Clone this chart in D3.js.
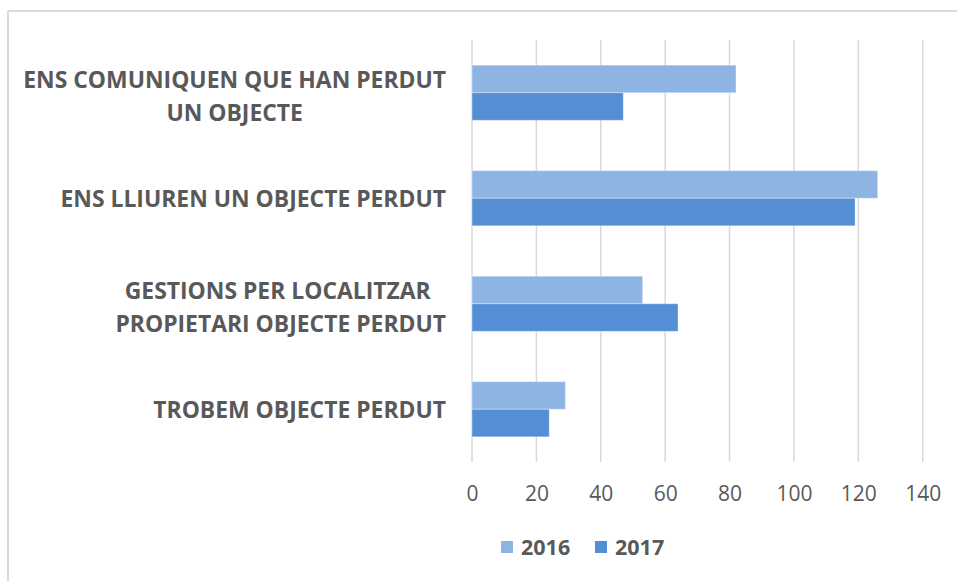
<!DOCTYPE html>
<html>
<head>
<meta charset="utf-8">
<script src="https://cdn.jsdelivr.net/npm/d3@7"></script>
<style>
  html, body { margin: 0; padding: 0; background: #fff; }
  svg { display: block; }
  .cat tspan { white-space: pre; }
</style>
</head>
<body>
<svg id="chart" width="957" height="581"></svg>
<script>
const categories = [
  ["ENS COMUNIQUEN QUE HAN PERDUT", "UN OBJECTE"],
  ["ENS LLIUREN UN OBJECTE PERDUT"],
  ["GESTIONS PER LOCALITZAR ", "PROPIETARI OBJECTE PERDUT"],
  ["TROBEM OBJECTE PERDUT"]
];
const seriesNames = ["2016", "2017"];
const values2016 = [82, 126, 53, 29];
const values2017 = [47, 119, 64, 24];
const xTicks = [0, 20, 40, 60, 80, 100, 120, 140];
const colors = ["#8EB4E3", "#558ED5"];

const svg = d3.select("#chart");
const W = 957, H = 581;
const margin = { left: 472, right: 34, top: 40, bottom: 119 };

// outer frame (top and left edges visible)
svg.append("line").attr("x1", 8).attr("x2", W).attr("y1", 11).attr("y2", 11)
  .attr("stroke", "#d9d9d9").attr("stroke-width", 2);
svg.append("line").attr("x1", 8).attr("x2", 8).attr("y1", 11).attr("y2", H)
  .attr("stroke", "#d9d9d9").attr("stroke-width", 2);

const x = d3.scaleLinear().domain([0, 140]).range([margin.left, 922.7]);
const y = d3.scaleBand().domain(d3.range(categories.length))
  .range([margin.top, H - margin.bottom]).paddingInner(0).paddingOuter(0);
const inner = d3.scaleBand().domain([0, 1])
  .range([0, y.bandwidth()]).paddingInner(0).paddingOuter(0.914);

// gridlines
svg.append("g").selectAll("line").data(xTicks).join("line")
  .attr("x1", d => x(d)).attr("x2", d => x(d))
  .attr("y1", margin.top).attr("y2", H - margin.bottom)
  .attr("stroke", "#d9d9d9").attr("stroke-width", 1.5);

// tick labels
const xAxis = d3.axisBottom(x).tickValues(xTicks).tickSize(0).tickPadding(0);
const gx = svg.append("g").attr("transform", `translate(0,${H - margin.bottom})`).call(xAxis);
gx.select(".domain").remove();
gx.selectAll("text")
  .attr("dy", 0).attr("y", 39)
  .attr("font-family", "'Open Sans'").attr("font-size", 21)
  .attr("fill", "#595959");

// bars
const series = [values2016, values2017];
series.forEach((vals, si) => {
  svg.append("g").selectAll("rect").data(vals).join("rect")
    .attr("x", x(0))
    .attr("y", (d, i) => y(i) + inner(si))
    .attr("width", d => x(d) - x(0))
    .attr("height", inner.bandwidth())
    .attr("fill", colors[si])
    .attr("stroke", "#ffffff").attr("stroke-opacity", 0.35).attr("stroke-width", 1);
});

// category labels: right-aligned block, lines centred within block
const lineH = 33.5;
const labelRight = 446;
const catG = svg.append("g").attr("class", "cat");
categories.forEach((lines, i) => {
  const cy = y(i) + y.bandwidth() / 2;
  const off = 8.5 + (lines.length - 1) * 3;
  const t = catG.append("text")
    .attr("text-anchor", "middle")
    .attr("font-family", "'Open Sans'").attr("font-weight", 700)
    .attr("font-size", 22.9).attr("fill", "#595959");
  const spans = lines.map((ln, j) => t.append("tspan")
    .attr("y", cy + (j - (lines.length - 1) / 2) * lineH + off)
    .text(ln));
  const maxW = d3.max(spans, s => s.node().getComputedTextLength());
  spans.forEach(s => s.attr("x", labelRight - maxW / 2));
});

// legend
const legend = svg.append("g");
const legendX = [501, 595];
seriesNames.forEach((name, i) => {
  legend.append("rect").attr("x", legendX[i]).attr("y", 541)
    .attr("width", 12).attr("height", 12).attr("fill", colors[i]);
  legend.append("text").attr("x", legendX[i] + 20).attr("y", 555)
    .attr("font-family", "'Open Sans'").attr("font-weight", 700)
    .attr("font-size", 21.5).attr("fill", "#595959").text(name);
});
</script>
</body>
</html>
